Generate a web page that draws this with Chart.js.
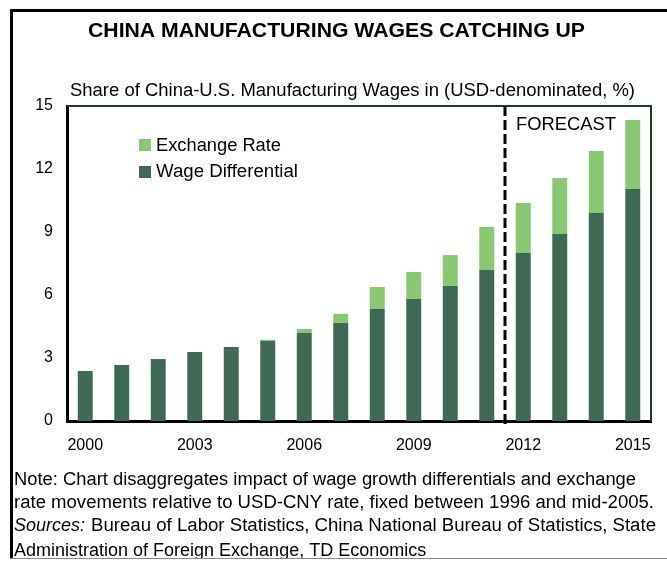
<!DOCTYPE html>
<html>
<head>
<meta charset="utf-8">
<script src="https://cdn.jsdelivr.net/npm/chart.js"></script>
<style>
body{margin:0;background:#fff;}
#wrap{width:667px;height:561px;position:relative;}
</style>
</head>
<body>
<div id="wrap"><canvas id="wageChart" width="667" height="561"></canvas></div>
<script>
var years=['2000','2001','2002','2003','2004','2005','2006','2007','2008','2009','2010','2011','2012','2013','2014','2015'];
var wageDiff=[2.38,2.67,2.95,3.29,3.52,3.81,4.19,4.67,5.33,5.81,6.43,7.19,8.0,8.9,9.9,11.05];
var exchRate=[0,0,0,0,0,0.06,0.19,0.43,1.05,1.29,1.47,2.05,2.38,2.67,2.96,3.28];
var yTicks=[0,3,6,9,12,15];
var forecastFrom='2012';

var chartTitle='CHINA MANUFACTURING WAGES CATCHING UP';
var subTitle='Share of China-U.S. Manufacturing Wages in (USD-denominated, %)';
var noteLines=[
    'Note: Chart disaggregates impact of wage growth differentials and exchange',
    'rate movements relative to USD-CNY rate, fixed between 1996 and mid-2005.',
    'Administration of Foreign Exchange, TD Economics'
];
var sourcesLine='Bureau of Labor Statistics, China National Bureau of Statistics, State';

var darkGreen='#3e6a55';
var lightGreen='#88c872';
var font='"Liberation Sans", Arial, sans-serif';

// draws text squeezed/stretched so it spans w pixels
function fitText(ctx,txt,x,y,w){
    var m=ctx.measureText(txt).width;
    ctx.save();
    ctx.translate(x,y);
    ctx.scale(w/m,1);
    ctx.fillText(txt,0,0);
    ctx.restore();
}

// frame, titles, legend, forecast divider and footnotes
var decorPlugin={
    id:'decor',
    afterDraw:function(chart){
        var ctx=chart.ctx;
        var area=chart.chartArea;
        var xs=chart.scales.x;
        ctx.save();

        // outer frame
        ctx.fillStyle='#000';
        ctx.fillRect(10,9,3,552);
        ctx.fillRect(10,9,657,3);

        // titles
        ctx.fillStyle='#000';
        ctx.textBaseline='alphabetic';
        ctx.textAlign='left';
        ctx.font='bold 20px '+font;
        fitText(ctx,chartTitle,88,37,497);
        ctx.font='18px '+font;
        fitText(ctx,subTitle,70,96,565);

        // top & right plot border
        ctx.strokeStyle='#1e3b28';
        ctx.lineWidth=2;
        ctx.beginPath();
        ctx.moveTo(area.left,area.top);
        ctx.lineTo(area.right,area.top);
        ctx.lineTo(area.right,area.bottom);
        ctx.stroke();

        // forecast divider
        var i=years.indexOf(forecastFrom);
        var dx=Math.round((xs.getPixelForValue(i-1)+xs.getPixelForValue(i))/2);
        ctx.strokeStyle='#000';
        ctx.lineWidth=3;
        ctx.setLineDash([10,4]);
        ctx.beginPath();
        ctx.moveTo(dx,area.top);
        ctx.lineTo(dx,area.bottom+3);
        ctx.stroke();
        ctx.setLineDash([]);
        ctx.font='18px '+font;
        fitText(ctx,'FORECAST',dx+11,130,100);

        // legend
        var items=[[chart.data.datasets[1],139,151,125],[chart.data.datasets[0],166,177,142]];
        items.forEach(function(it){
            ctx.fillStyle=it[0].backgroundColor;
            ctx.fillRect(139,it[1],12,12);
            ctx.fillStyle='#000';
            ctx.font='18px '+font;
            fitText(ctx,it[0].label,156,it[2],it[3]);
        });

        // footnotes
        ctx.font='18px '+font;
        fitText(ctx,noteLines[0],14,485,622);
        fitText(ctx,noteLines[1],14,508,640);
        ctx.font='italic 18px '+font;
        var w=ctx.measureText('Sources:').width;
        ctx.fillText('Sources:',14,531);
        ctx.font='18px '+font;
        fitText(ctx,sourcesLine,14+w+6,531,642-w-6);
        ctx.fillText(noteLines[2],14,556);

        ctx.fillStyle='#fff';
        ctx.fillRect(0,558,667,3);
        ctx.fillStyle='#8a8a8a';
        ctx.fillRect(10,558,657,1);
        ctx.restore();
    }
};

var ctx=document.getElementById('wageChart').getContext('2d');
var myChart=new Chart(ctx,{
    type:'bar',
    data:{
        labels:years,
        datasets:[{
            label:'Wage Differential',
            data:wageDiff,
            backgroundColor:darkGreen
        },{
            label:'Exchange Rate',
            data:exchRate,
            backgroundColor:lightGreen
        }]
    },
    options:{
        responsive:false,
        animation:false,
        layout:{padding:{top:106,right:16,left:0,bottom:0}},
        datasets:{bar:{categoryPercentage:0.41,barPercentage:1}},
        plugins:{
            legend:{display:false},
            tooltip:{enabled:false}
        },
        scales:{
            x:{
                stacked:true,
                grid:{display:false,drawTicks:false},
                border:{color:'#000',width:3},
                ticks:{
                    autoSkip:false,
                    maxRotation:0,
                    padding:15,
                    color:'#000',
                    font:{size:16,family:font},
                    callback:function(v,i){return i%3==0?years[i]:'';}
                },
                afterFit:function(s){s.height=140;}
            },
            y:{
                stacked:true,
                min:0,
                max:15,
                grid:{display:false,drawTicks:false},
                border:{color:'#000',width:3},
                afterBuildTicks:function(s){s.ticks=yTicks.map(function(v){return {value:v};});},
                ticks:{
                    padding:14,
                    color:'#000',
                    font:{size:16,family:font}
                },
                afterFit:function(s){s.width=67;}
            }
        }
    },
    plugins:[decorPlugin]
});
</script>
</body>
</html>
